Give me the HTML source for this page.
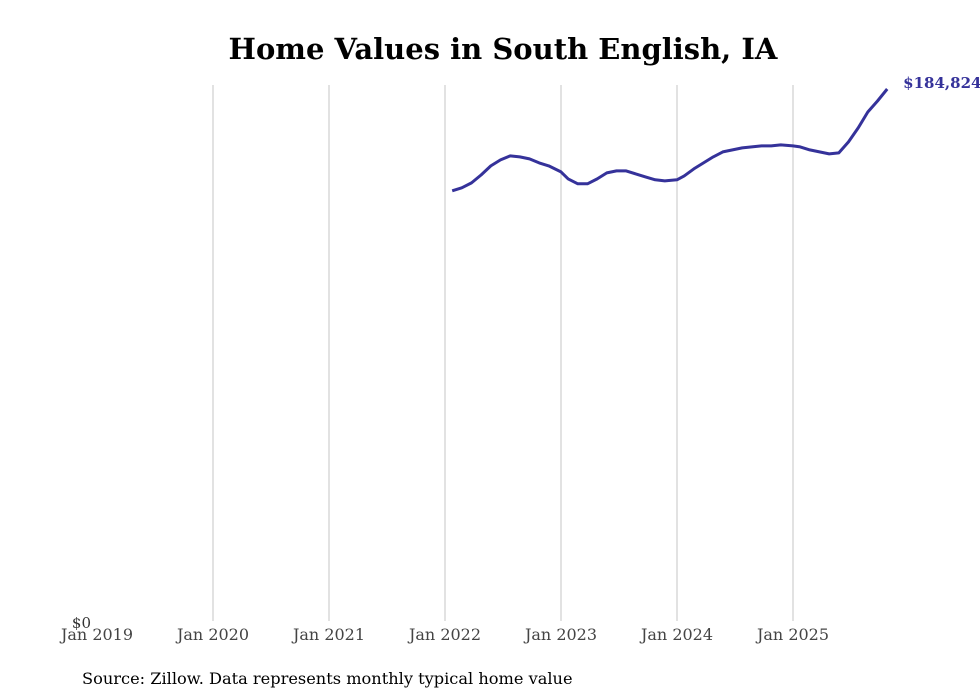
<!DOCTYPE html>
<html><head><meta charset="utf-8"><style>
html,body{margin:0;padding:0;background:#fff;}
svg{display:block;font-family:"DejaVu Serif","Liberation Serif",serif;}
</style></head><body>
<svg id="chart" width="980" height="699">
<text x="503" y="59" text-anchor="middle" font-size="29" font-weight="bold" fill="#000">Home Values in South English, IA</text>
<g id="grid"></g>
<g id="xticks"></g>
<text x="91" y="628" text-anchor="end" font-size="15" fill="#333">$0</text>
<path id="line" fill="none" stroke="#35329a" stroke-width="3" stroke-linejoin="round"></path>
<text id="endlabel" font-size="15" font-weight="bold" fill="#35329a"></text>
<text x="82" y="684" font-size="16.2" fill="#000">Source: Zillow. Data represents monthly typical home value</text>
</svg>
<script>
const tickLabels = ["Jan 2019","Jan 2020","Jan 2021","Jan 2022","Jan 2023","Jan 2024","Jan 2025"];
const startMonthIndex = 37; // Feb 2022, months since Jan 2019
const values = [149645,150680,152400,155160,158260,160330,161710,161370,160680,159300,158260,156190,153780,152060,152060,153780,155850,156540,156540,155500,154470,153440,153090,153440,154820,157230,159300,161370,163090,163780,164470,164810,165160,165160,165500,165160,164810,163780,163090,162400,162750,166540,171370,176880,180680,184824];
const maxV = 184824;
const x = m => 97 + m * (116/12) - (m > 0 && m % 12 ? 2.5 : 0);
const y = v => 624 - v / maxV * (624 - 89);
const ns = "http://www.w3.org/2000/svg";
const grid = document.getElementById('grid'), xt = document.getElementById('xticks');
tickLabels.forEach((t,i)=>{
  const xx = x(i*12);
  if(i>0){
    const l = document.createElementNS(ns,'line');
    l.setAttribute('x1',xx);l.setAttribute('x2',xx);l.setAttribute('y1',85);l.setAttribute('y2',621);
    l.setAttribute('stroke','#c4c4c4');l.setAttribute('stroke-width','1');
    
    
    grid.appendChild(l);
  }
  const tx = document.createElementNS(ns,'text');
  tx.setAttribute('x',xx);tx.setAttribute('y',640);tx.setAttribute('text-anchor','middle');
  tx.setAttribute('font-size','16');tx.setAttribute('fill','#444');
  tx.textContent = t;
  
  
  xt.appendChild(tx);
});
let d='';
values.forEach((v,i)=>{ d += (i?'L':'M') + x(startMonthIndex+i).toFixed(1) + ',' + y(v).toFixed(1); });
document.getElementById('line').setAttribute('d', d);
const last = values[values.length-1];
const el = document.getElementById('endlabel');
el.setAttribute('x', x(startMonthIndex+values.length-1)+16);
el.setAttribute('y', y(last)-1);
el.textContent = '$' + last.toLocaleString('en-US');
</script>
</body></html>
